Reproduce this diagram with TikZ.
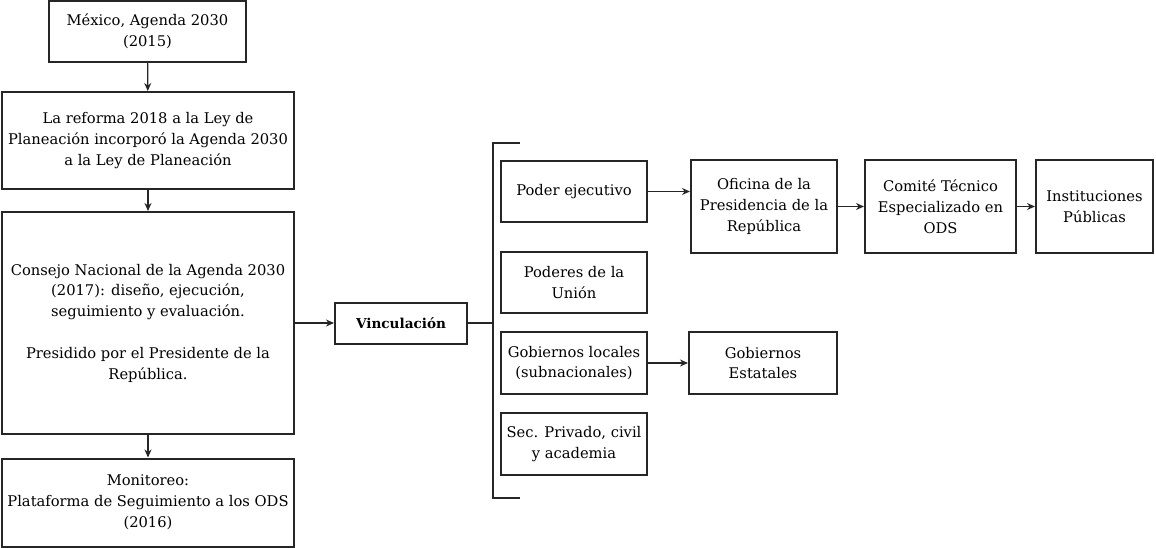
\documentclass[tikz,border=0pt]{standalone}
\usepackage{fontspec}
\setmainfont{DejaVu Serif}
\usetikzlibrary{arrows.meta}
\begin{document}
\begin{tikzpicture}[x=1pt,y=-1pt,
  box/.style={draw=black!85,line width=2pt,inner sep=0pt,align=center,
    font=\fontsize{14.7}{20.8}\selectfont},
  conn/.style={line width=1.2pt,draw=black!85,-{Stealth[length=8pt,width=7pt]}},
  plain/.style={line width=1.6pt,draw=black!85}]
\useasboundingbox (0,0) rectangle (1156,548);
\node[box,minimum width=197pt,minimum height=61pt] (mex) at (147.5,31.5) {México, Agenda 2030\\(2015)};
\node[box,minimum width=292pt,minimum height=97pt] (ref) at (148,140.5) {La reforma 2018 a la Ley de\\Planeación incorporó la Agenda 2030\\a la Ley de Planeación};
\node[box,minimum width=292pt,minimum height=222pt] (cons) at (148,323) {Consejo Nacional de la Agenda 2030\\(2017): diseño, ejecución,\\seguimiento y evaluación.\\[20.8pt]Presidido por el Presidente de la\\República.};
\node[box,minimum width=292pt,minimum height=88pt] (mon) at (148,502.5) {Monitoreo:\\Plataforma de Seguimiento a los ODS\\(2016)};
\node[box,minimum width=132pt,minimum height=41pt,font=\fontsize{13.6}{20.8}\selectfont\bfseries] (vinc) at (401,323) {Vinculación};
\node[box,minimum width=146pt,minimum height=61pt] (pod) at (574,191.5) {Poder ejecutivo};
\node[box,minimum width=146pt,minimum height=61pt] (uni) at (574,282.5) {Poderes de la\\Unión};
\node[box,minimum width=146pt,minimum height=62pt] (gloc) at (574,363) {Gobiernos locales\\(subnacionales)};
\node[box,minimum width=146pt,minimum height=62pt] (sec) at (574,444) {Sec. Privado, civil\\y academia};
\node[box,minimum width=146pt,minimum height=92pt] (ofi) at (764,206.5) {Oficina de la\\Presidencia de la\\República};
\node[box,minimum width=148pt,minimum height=62pt] (gest) at (763,363) {Gobiernos\\Estatales};
\node[box,minimum width=151pt,minimum height=93pt] (com) at (940.5,206.5) {Comité Técnico\\Especializado en\\ODS};
\node[box,minimum width=117pt,minimum height=93pt] (inst) at (1094.5,206.5) {Instituciones\\Públicas};
\coordinate (bt) at (520,143);
\coordinate (bb) at (520,498);
\coordinate (bm) at (493,323);
\draw[conn] (mex) -- (ref);
\draw[conn] (ref) -- (cons);
\draw[conn] (cons) -- (mon);
\draw[conn] (cons.east) -- (vinc.west);
\draw[plain] (vinc.east) -- (bm);
\draw[plain] (bt) -- (bt -| bm) -- (bb -| bm) -- (bb);
\draw[conn] (pod.east) -- (pod.east -| ofi.west);
\draw[conn] (ofi.east) -- (com.west);
\draw[conn] (com.east) -- (inst.west);
\draw[conn] (gloc.east) -- (gest.west);
\end{tikzpicture}
\end{document}
